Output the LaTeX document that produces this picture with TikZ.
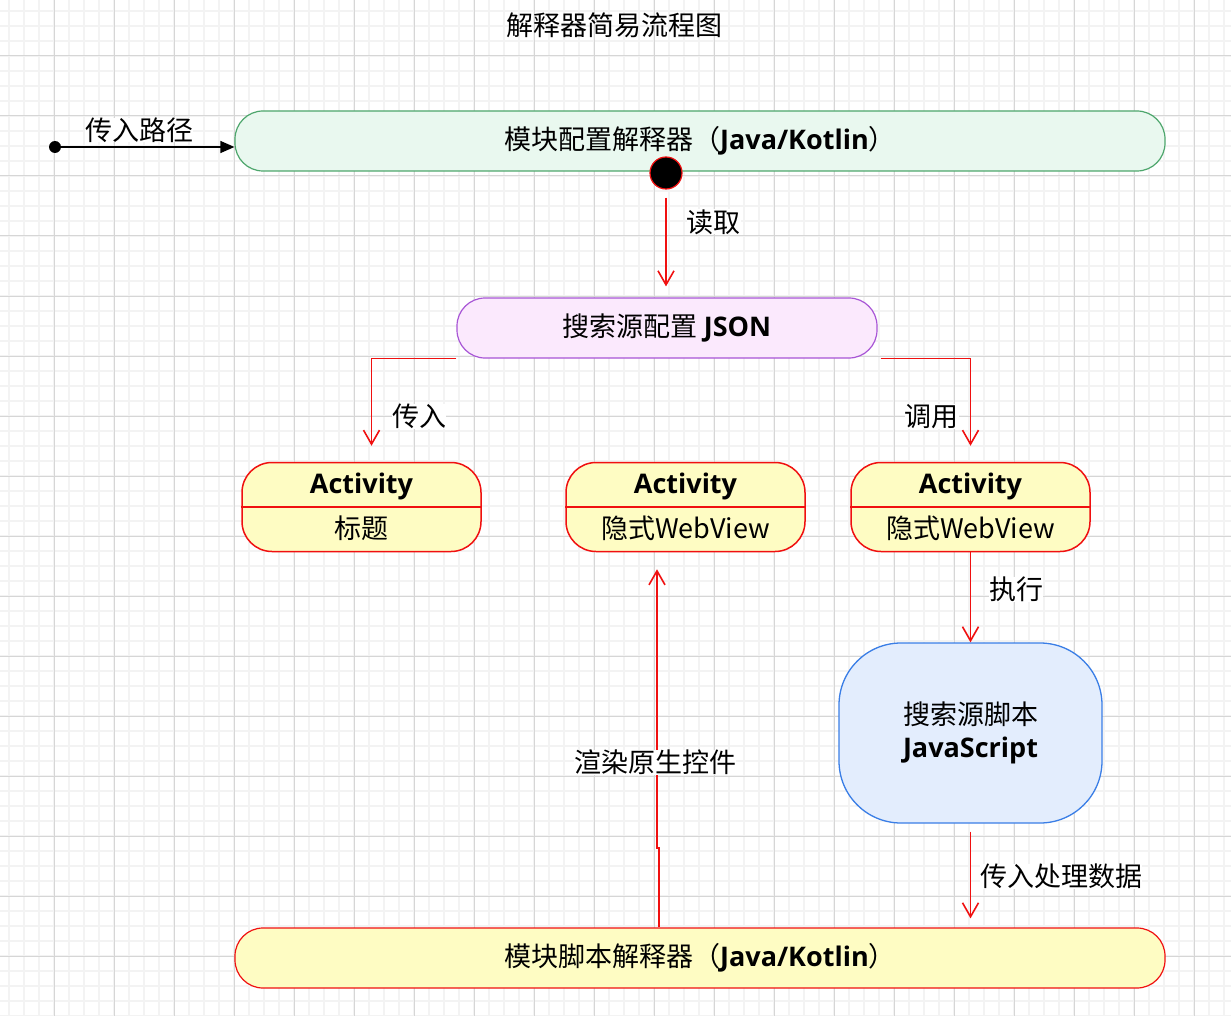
\documentclass[tikz,border=0pt]{standalone}
\usepackage{fontspec}
\setmainfont{Noto Sans CJK SC}
\newfontfamily\latbold{Open Sans}
\providecommand{\bl}[1]{{\latbold\bfseries #1}}
\usetikzlibrary{positioning,arrows.meta}

\definecolor{minorgrid}{HTML}{F3F3F3}
\definecolor{majorgrid}{HTML}{D6D6D6}
\definecolor{greenfill}{HTML}{E9F8EF}
\definecolor{greenline}{HTML}{4DA66C}
\definecolor{purplefill}{HTML}{FBE9FD}
\definecolor{purpleline}{HTML}{A855D6}
\definecolor{actfill}{HTML}{FEFCC3}
\definecolor{redline}{HTML}{F01010}
\definecolor{bluefill}{HTML}{E3EDFD}
\definecolor{blueline}{HTML}{3A7EE6}

\tikzset{
  txt/.style={font=\fontsize{27}{30}\selectfont},
  state/.style={txt, draw, rounded corners=28pt, line width=1.2pt, minimum height=60pt, inner sep=0pt},
  act/.style={draw=redline, fill=actfill, rounded corners=30pt, line width=1.5pt,
    minimum width=239pt, minimum height=89pt, align=center, inner sep=0pt,
    font=\fontsize{27}{45}\selectfont},
  flow/.style={draw=redline, line width=1.6pt, -{Straight Barb[length=14pt,width=16pt]}},
  lbl/.style={txt, fill=white, inner sep=0pt},
}

\begin{document}
\begin{tikzpicture}[x=1pt,y=-1pt]

% Background and grid
\useasboundingbox (0,0) rectangle (1231,1016);
\fill[white] (0,0) rectangle (1231,1016);
\foreach \x in {9,24,...,1231} \draw[minorgrid, line width=1.5pt] (\x,0) -- (\x,1016);
\foreach \y in {11,26,...,1016} \draw[minorgrid, line width=1.5pt] (0,\y) -- (1231,\y);
\foreach \x in {54,114,...,1231} \draw[majorgrid, line width=1pt] (\x,0) -- (\x,1016);
\foreach \y in {56,116,...,1016} \draw[majorgrid, line width=1pt] (0,\y) -- (1231,\y);

% Define nodes
\node[txt] (title) at (614,25) {解释器简易流程图};
\node[circle, fill=black, minimum size=12pt, inner sep=0pt] (start) at (55,147) {};
\node[state, draw=greenline, fill=greenfill, minimum width=930pt] (conf) at (700,141) {模块配置解释器（\bl{Java/Kotlin}）};
\node[circle, fill=black, draw=redline, line width=1.2pt, minimum size=32pt, inner sep=0pt] (init) at (666,173) {};
\node[state, draw=purpleline, fill=purplefill, minimum width=420pt] (json) at (667,328) {搜索源配置 \bl{JSON}};
\node[act] (acta) at (361.5,507) {\bl{Activity}\\标题};
\node[act] (actb) at (685.5,507) {\bl{Activity}\\隐式WebView};
\node[act] (actc) at (970.5,507) {\bl{Activity}\\隐式WebView};
\node[draw=blueline, fill=bluefill, rounded corners=62pt, line width=1.3pt, minimum width=263pt,
  minimum height=180pt, align=center, inner sep=0pt, font=\fontsize{27}{33}\selectfont] (js) at (970.5,733) {搜索源脚本\\\bl{JavaScript}};
\node[state, draw=redline, fill=actfill, minimum width=930pt] (script) at (700,958) {模块脚本解释器（\bl{Java/Kotlin}）};

% Dividers of the activity boxes
\foreach \a in {acta,actb,actc} \draw[redline, line width=1.5pt] (\a.west) -- (\a.east);

% Connect the nodes
\draw[line width=1.2pt, -{Triangle[length=14pt,width=12pt]}] (start) -- (start -| conf.west)
  node[lbl, pos=0.45, above=4pt] {传入路径};
\draw[flow, shorten <=8pt, shorten >=11pt] (init) -- (init |- json.north)
  node[lbl, pos=0.3, right=20pt] {读取};
\draw[flow, shorten >=16pt] (json.south west) -| ([xshift=10pt]acta.north)
  node[lbl, pos=0.78, right=20pt] {传入};
\draw[flow, shorten >=16pt] ([xshift=3pt]json.south east) -| (actc.north)
  node[lbl, pos=0.78, left=11pt] {调用};
\draw[flow] (actc) -- (js)
  node[lbl, pos=0.41, right=18pt] {执行};
\draw[flow, shorten <=8pt, shorten >=9pt] (js) -- (js |- script.north)
  node[lbl, pos=0.51, right=9pt] {传入处理数据};
\draw[flow, shorten >=17pt] (script.north -| 659,0) |- (657,848) -- (657,0 |- actb.south)
  node[lbl, pos=0.29, xshift=-2pt] {渲染原生控件};

\end{tikzpicture}
\end{document}
